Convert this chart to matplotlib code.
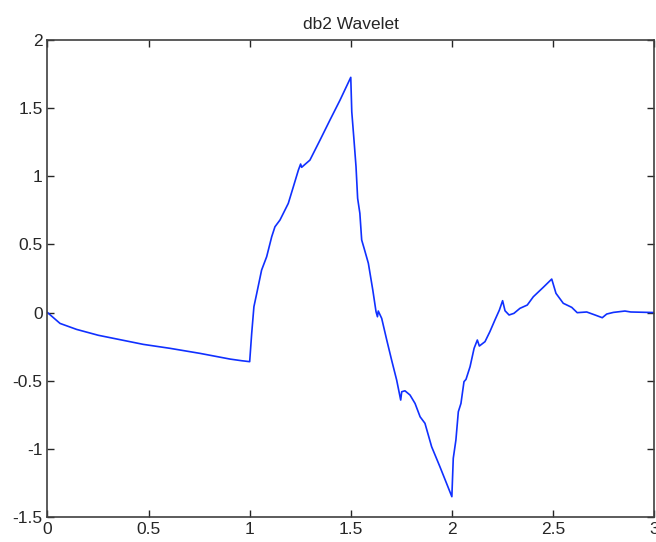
import matplotlib
matplotlib.use("Agg")
from matplotlib import pyplot as plt

plt.rcParams['font.family'] = ['Liberation Sans', 'DejaVu Sans']

# psi(t) samples for the db2 wavelet, support [0, 3]
t = [0.0, 0.062, 0.144, 0.251, 0.474, 0.606, 0.754, 0.903, 0.960, 1.0,
     1.010, 1.021, 1.035, 1.059, 1.084, 1.109, 1.125, 1.150, 1.191, 1.216,
     1.241, 1.252, 1.257, 1.298, 1.348, 1.397, 1.447, 1.5,
     1.505, 1.516, 1.526, 1.534, 1.545, 1.554, 1.566, 1.587, 1.609, 1.625,
     1.632, 1.636, 1.653, 1.678, 1.702, 1.727, 1.747, 1.752, 1.768, 1.793,
     1.818, 1.843, 1.867, 1.900, 1.941, 1.977, 2.0,
     2.007, 2.020, 2.032, 2.045, 2.060, 2.070, 2.090, 2.110, 2.126, 2.136,
     2.164, 2.188, 2.213, 2.235, 2.251, 2.263, 2.283, 2.307, 2.337, 2.373,
     2.403, 2.452, 2.494, 2.515, 2.551, 2.593, 2.620, 2.667, 2.708, 2.744,
     2.766, 2.799, 2.856, 2.885, 3.0]
psi = [0.0, -0.08, -0.124, -0.167, -0.234, -0.263, -0.30, -0.342, -0.354, -0.361,
       -0.153, 0.043, 0.141, 0.312, 0.41, 0.557, 0.630, 0.68, 0.802, 0.924,
       1.047, 1.091, 1.067, 1.12, 1.267, 1.414, 1.561, 1.728,
       1.475, 1.267, 1.071, 0.839, 0.729, 0.533, 0.472, 0.362, 0.165, 0.006,
       -0.031, 0.011, -0.043, -0.202, -0.349, -0.496, -0.643, -0.582, -0.575, -0.606,
       -0.668, -0.766, -0.814, -0.986, -1.133, -1.267, -1.353,
       -1.071, -0.937, -0.729, -0.668, -0.508, -0.491, -0.398, -0.263, -0.202, -0.246,
       -0.214, -0.141, -0.055, 0.018, 0.087, 0.013, -0.018, -0.006, 0.031, 0.055,
       0.116, 0.185, 0.246, 0.141, 0.068, 0.038, -0.001, 0.004, -0.018, -0.038,
       -0.011, 0.001, 0.011, 0.004, 0.0]

xticks = [0, 0.5, 1, 1.5, 2, 2.5, 3]
yticks = [-1.5, -1, -0.5, 0, 0.5, 1, 1.5, 2]

fig = plt.figure(figsize=(6.56, 5.42), dpi=100)
ax = fig.add_axes([0.0724, 0.0467, 0.9246, 0.8789])
ax.plot(t, psi, color='#1030ff', linewidth=1.2)

ax.set_xlim(0, 3)
ax.set_ylim(-1.5, 2)
ax.set_xticks(xticks)
ax.set_xticklabels(['0', '0.5', '1', '1.5', '2', '2.5', '3'])
ax.set_yticks(yticks)
ax.set_yticklabels(['-1.5', '-1', '-0.5', '0', '0.5', '1', '1.5', '2'])
ax.tick_params(direction='in', top=True, right=True, length=5, width=1,
               labelsize=12.5, pad=3.5, colors='#262626')
for s in ax.spines.values():
    s.set_color('#404040')
    s.set_linewidth(1.2)
ax.set_title('db2 Wavelet', fontsize=12.5, pad=8, color='#262626')

fig.savefig('out.png', dpi=100)
